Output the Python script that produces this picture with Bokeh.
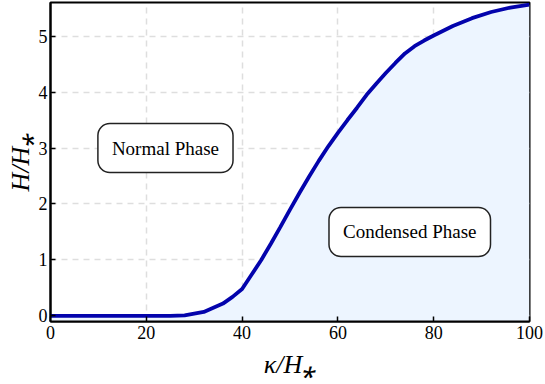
from bokeh.plotting import figure
from bokeh.models import ColumnDataSource, Label, Range1d, FixedTicker
from bokeh.embed import file_html
from bokeh.resources import INLINE

kappa = [0, 5, 10, 15, 20, 25, 28, 32, 36, 38, 40, 42, 44, 46, 48, 50, 52, 54, 56, 58,
         60, 62, 64, 66, 68, 70, 72, 74, 76, 78, 80, 84, 88, 92, 96, 100]
H = [0, 0, 0, 0, 0, 0, 0.01, 0.07, 0.22, 0.34, 0.48, 0.74, 1.00, 1.29, 1.59, 1.90, 2.20, 2.49,
     2.77, 3.03, 3.27, 3.50, 3.72, 3.95, 4.15, 4.34, 4.52, 4.69, 4.82, 4.92, 5.01, 5.18, 5.32,
     5.43, 5.51, 5.56]
x_ticks = [0, 20, 40, 60, 80, 100]
y_ticks = [0, 1, 2, 3, 4, 5]
phase_labels = ["Normal Phase", "Condensed Phase"]
phase_x = [24, 75]
phase_y = [3.0, 1.5]

ymin = -0.1
src = ColumnDataSource(data=dict(x=kappa, y=H, base=[ymin] * len(kappa)))

FONT = "Liberation Serif"
p = figure(width=545, height=384, output_backend="svg", toolbar_location=None,
           x_range=Range1d(0, 100), y_range=Range1d(ymin, 5.6),
           min_border_left=50, min_border_right=16, min_border_top=2, min_border_bottom=63)
p.background_fill_color = "white"
p.border_fill_color = "white"
p.outline_line_color = "black"
p.outline_line_width = 2

p.varea(x="x", y1="base", y2="y", source=src, fill_color="#edf5ff", fill_alpha=1)
p.line(x="x", y="y", source=src, line_color="#0303ac", line_width=3.8)

for ax in (p.xaxis[0], p.yaxis[0]):
    ax.axis_line_color = "black"
    ax.axis_line_width = 2
    ax.major_tick_in = 5
    ax.major_tick_out = 0
    ax.major_tick_line_width = 1.5
    ax.minor_tick_line_color = None
    ax.major_label_text_font = FONT
    ax.major_label_text_font_size = "18px"
    ax.major_label_text_color = "black"
    ax.axis_label_text_font = FONT
    ax.axis_label_text_font_style = "italic"
    ax.axis_label_text_font_size = "26px"
    ax.axis_label_text_color = "black"
p.xaxis.ticker = FixedTicker(ticks=x_ticks)
p.yaxis.ticker = FixedTicker(ticks=y_ticks)
p.xaxis.major_label_standoff = 4
p.yaxis.major_label_standoff = 3
p.xaxis.axis_label = "κ/H⁎"
p.yaxis.axis_label = "H/H⁎"
p.xaxis.axis_label_standoff = 8
p.yaxis.axis_label_standoff = 1

for g in (p.xgrid[0], p.ygrid[0]):
    g.grid_line_color = "#dedede"
    g.grid_line_dash = "6 5"
    g.grid_line_width = 1.5
p.xgrid.ticker = FixedTicker(ticks=x_ticks)
p.ygrid.ticker = FixedTicker(ticks=y_ticks)

for t, xx, yy in zip(phase_labels, phase_x, phase_y):
    p.add_layout(Label(x=xx, y=yy, text=t, text_align="center", text_baseline="middle",
                       text_font=FONT, text_font_size="19px", text_color="black",
                       background_fill_color="white", background_fill_alpha=1,
                       border_line_color="#222222", border_line_width=1.5,
                       padding=14, border_radius=12))

open("out.html", "w").write(file_html(p, INLINE))
